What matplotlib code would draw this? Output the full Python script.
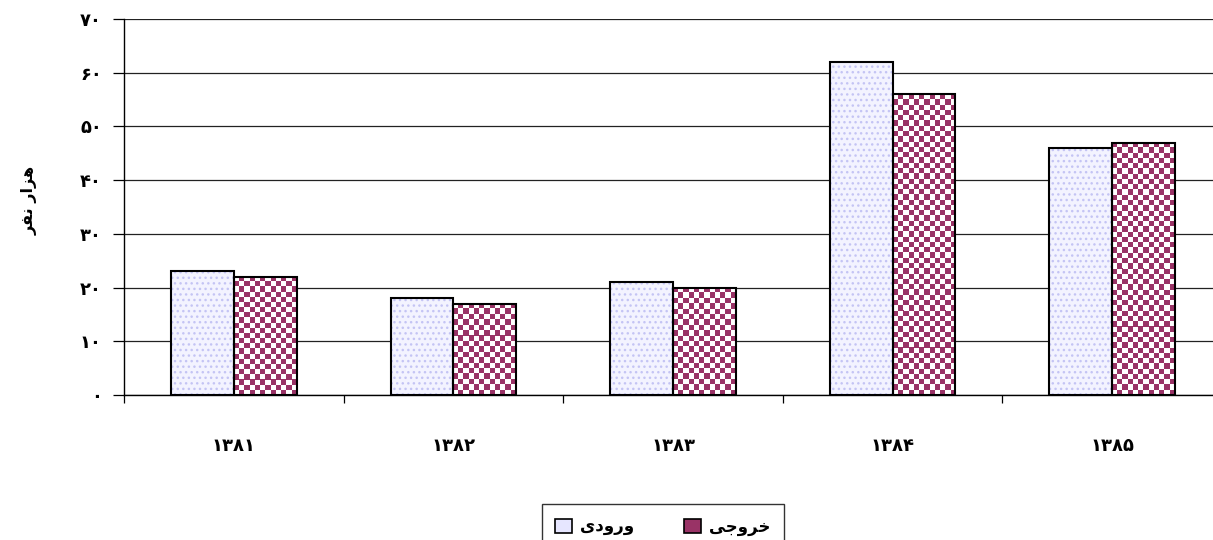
import matplotlib
matplotlib.use("Agg")
import matplotlib.pyplot as plt
import numpy as np
from matplotlib.patches import Patch
from matplotlib.colors import ListedColormap

# Data
years = ["۱۳۸۱", "۱۳۸۲", "۱۳۸۳", "۱۳۸۴", "۱۳۸۵"]
inflow = [23, 18, 21, 62, 46]      # ورودی
outflow = [22, 17, 20, 56, 47]     # خروجی
yticks = [0, 10, 20, 30, 40, 50, 60, 70]
ytick_labels = ["۰", "۱۰", "۲۰", "۳۰", "۴۰", "۵۰", "۶۰", "۷۰"]
# shaped (presentation forms), visual order for LTR renderer
ylabel_txt = "\uFEAE\uFED4\uFEE7 \uFEAD\uFE8D\uFEB0\uFEEB"   # هزار نفر
label_in = "\u06CC\u062F\u0648\u0631\u0648"                   # ورودی
label_out = "\uFBFD\uFE9F\uFEED\uFEAE\uFEA7"                  # خروجی

plt.rcParams['font.family'] = ['DejaVu Sans']
W, H = 1213, 540
fig = plt.figure(figsize=(W / 100, H / 100), dpi=100)
ax = fig.add_axes([124 / W, 1 - 395 / H, (1222 - 124) / W, (395 - 19) / H])

x = np.arange(len(years))
bw = 0.286
maroon = "#993366"

# inflow bars: light lavender dotted
ax.bar(x - bw / 2, inflow, bw, color="#F3F3FF", edgecolor="#C4C4F4",
       hatch="...", linewidth=0, zorder=3)
ax.bar(x - bw / 2, inflow, bw, fill=False, edgecolor="black", linewidth=1.5, zorder=5)

# outflow bars: checkerboard maroon/white
out_bars = ax.bar(x + bw / 2, outflow, bw, color=maroon, linewidth=0, zorder=3)
cmap = ListedColormap(["white", maroon])
for b in out_bars:
    x0, w_, h_ = b.get_x(), b.get_width(), b.get_height()
    nx = 12
    ny = max(1, int(round(h_ * (376 / 70) / (w_ * 220 / nx))))
    pattern = (np.add.outer(np.arange(ny), np.arange(nx)) % 2)
    im = ax.imshow(pattern, cmap=cmap, extent=(x0, x0 + w_, 0, h_),
                   aspect="auto", interpolation="bilinear", zorder=4, origin="lower")
    im.set_clip_path(b)
ax.bar(x + bw / 2, outflow, bw, fill=False, edgecolor="black", linewidth=1.5, zorder=5)

ax.set_xlim(-0.5, len(years) - 0.5)
ax.set_ylim(0, 70)
ax.set_yticks(yticks)
ax.set_yticklabels(ytick_labels, fontweight="bold", fontsize=13)
ax.yaxis.grid(True, color="#222222", linewidth=0.9, zorder=0)
ax.set_axisbelow(True)

ax.set_xticks(x)
ax.set_xticklabels(years, fontweight="bold", fontsize=13)
ax.tick_params(axis="x", which="major", length=0, pad=30)
ax.set_xticks(np.arange(-0.5, len(years)), minor=True)
ax.tick_params(axis="x", which="minor", length=6, width=0.9, direction="out")
ax.tick_params(axis="y", length=8, width=0.9, direction="out", pad=8)

for s in ["top", "right"]:
    ax.spines[s].set_visible(False)
for s in ["left", "bottom"]:
    ax.spines[s].set_color("black")
    ax.spines[s].set_linewidth(1.0)

fig.text(30 / W, 1 - 200 / H, ylabel_txt, rotation=90, ha="center", va="center",
         fontweight="bold", fontsize=11.5)

handles = [Patch(facecolor="#E6E6FF", edgecolor="black", linewidth=1.2),
           Patch(facecolor=maroon, edgecolor="black", linewidth=1.2)]
leg = fig.legend(handles, [label_in, label_out], ncol=2, loc="upper center",
                 bbox_to_anchor=(663 / W, 1 - 496 / H), bbox_transform=fig.transFigure,
                 frameon=True, fancybox=False, prop={"weight": "bold", "size": 12},
                 handlelength=1.0, handleheight=1.0, handletextpad=0.5,
                 columnspacing=3.0, borderpad=0.8)
leg.get_frame().set_edgecolor("black")
leg.get_frame().set_linewidth(1.0)

fig.savefig("out.png", dpi=100)
